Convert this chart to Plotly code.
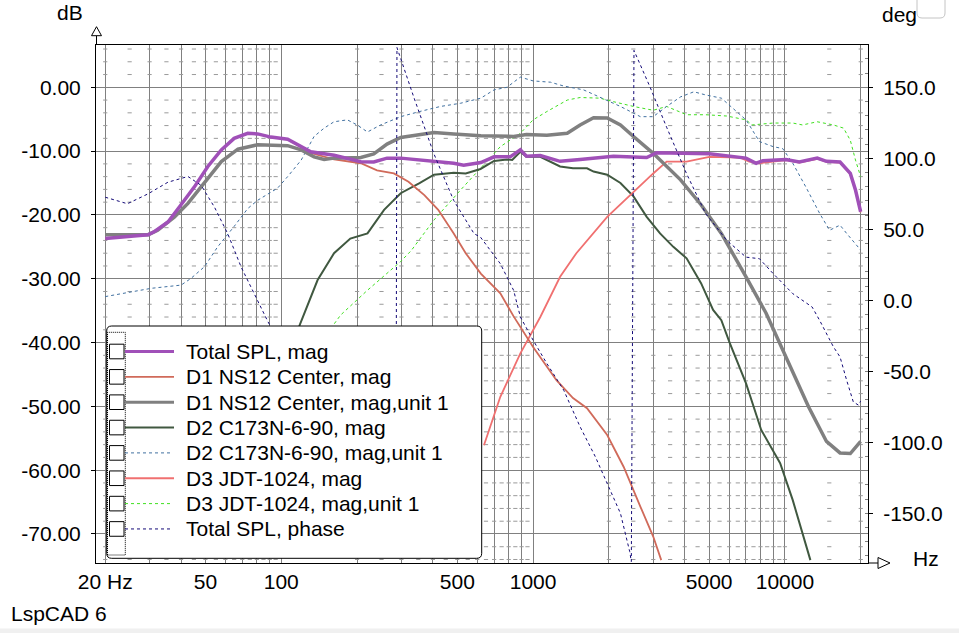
import numpy as np
import plotly.graph_objects as go

# ---- curves (Hz, dB / deg) ----
total_f = [20, 29.6, 31.4, 35.5, 40, 45.2, 51.1, 57.8, 65, 73.6, 80.6, 91, 106, 131, 162, 207, 233,
           263, 298, 404, 484, 530, 620, 700, 811, 890, 941, 1068, 1280, 1537, 2084, 2825, 3097,
           5009, 7006, 7686, 8170, 10090, 11400, 13430, 14620, 16550, 18180, 19060, 19980]
total_db = [-23.7, -23.1, -22.6, -21.1, -18.4, -15.6, -12.4, -9.8, -8.0, -7.2, -7.3, -7.8, -8.15, -10.1,
            -10.66, -11.65, -11.7, -11.1, -11.1, -11.55, -11.9, -12.2, -11.8, -10.9, -10.9, -9.8, -10.8,
            -10.7, -11.6, -11.3, -10.8, -11.0, -10.25, -10.4, -11.1, -11.9, -11.5, -11.3, -11.7, -11.1,
            -11.6, -11.7, -13.5, -16.1, -19.5]

d1_f = [20, 29.6, 31.4, 35.5, 40, 45.2, 51.1, 57.8, 65, 73.6, 80.6, 91, 106, 131, 162, 207, 240, 280,
        320, 370, 420, 484, 540, 620, 741, 837, 1000, 1238, 1440, 1637, 1969, 2290, 2666, 2999, 3227]
d1_db = [-23.7, -23.1, -22.6, -21.1, -18.4, -15.6, -12.4, -9.8, -8.0, -7.2, -7.3, -7.8, -8.15, -10.3,
         -11.3, -11.9, -13.0, -13.5, -14.8, -16.9, -19.2, -22.9, -26.0, -29.2, -32.3, -35.9, -40.7,
         -45.9, -48.7, -50.3, -54.5, -59.5, -65.7, -70.4, -74.1]

d1u_f = [20, 29.6, 32.3, 37.7, 42.6, 48.1, 57.8, 67.3, 80.6, 106, 120, 135, 148, 162, 207, 233, 263,
         298, 404, 484, 620, 837, 941, 1134, 1366, 1537, 1738, 1969, 2222, 2504, 2999, 3851, 4644,
         5590, 6316, 7006, 8418, 10090, 12420, 14620, 16550, 18180, 19980]
d1u_db = [-23.1, -23.1, -22.4, -20.3, -18.2, -15.6, -11.65, -9.7, -9.0, -9.15, -9.8, -10.9, -11.3,
          -11.1, -11.0, -10.45, -8.9, -7.85, -7.1, -7.3, -7.6, -7.7, -7.4, -7.5, -7.2, -5.9, -4.76,
          -4.8, -5.9, -7.7, -10.35, -14.5, -18.4, -22.9, -26.5, -29.7, -35.4, -42.2, -50.1, -55.5,
          -57.3, -57.4, -55.5]

d2_f = [60, 80, 100, 118, 139.4, 162, 188, 220, 256, 298, 354, 404, 484, 540, 618, 700, 787, 826,
        890, 941, 1068, 1172, 1280, 1440, 1637, 1738, 1969, 2222, 2504, 2825, 3192, 3604, 4069,
        4644, 5185, 5590, 6040, 7006, 8050, 9571, 10740, 12620]
d2_db = [-62, -51, -43.5, -37.4, -30.2, -26.0, -23.7, -22.9, -19.2, -16.6, -15.0, -13.7, -13.4,
         -13.5, -12.8, -11.55, -11.3, -11.4, -10.1, -10.9, -10.9, -11.7, -12.4, -12.7, -12.7, -13.2,
         -13.7, -15.0, -17.1, -20.3, -22.9, -25.0, -26.8, -30.7, -34.9, -36.5, -40.1, -46.4, -53.7,
         -58.9, -64.7, -74.1]

d2u_f = [20, 26.1, 30.5, 40, 43.8, 49.6, 55.9, 65, 73.6, 80.6, 96.7, 106, 120, 135, 148, 162, 183,
         200, 220, 248, 298, 354, 429, 515, 620, 700, 787, 890, 1000, 1172, 1323, 1586, 1839, 2222,
         2666, 2999, 3390, 3851, 4351, 4845, 5590, 6316, 7006, 7920, 8980, 9794, 10740, 12100,
         13730, 15040, 16550, 17580, 19980]
d2u_db = [-32.8, -32.0, -31.5, -31.0, -29.95, -28.1, -25.0, -21.8, -19.0, -17.7, -15.8, -14.0, -11.4,
          -7.7, -6.4, -5.4, -5.1, -5.9, -7.0, -5.9, -4.6, -3.8, -3.0, -2.5, -1.7, -0.4, 0.0, 1.6, 1.0,
          0.8, 0.2, -0.4, -1.5, -3.0, -4.6, -4.6, -3.0, -1.5, -0.7, -1.2, -1.7, -3.6, -5.1, -8.5,
          -9.3, -9.6, -11.9, -15.6, -19.75, -22.4, -21.6, -22.9, -25.5]

d3_f = [638, 741, 890, 1068, 1280, 1485, 1969, 2504, 2999, 3390, 4069, 5009, 6610, 7215, 7920,
        10090, 11400, 13430, 14620, 16550, 18180, 19060, 19980]
d3_db = [-56.1, -48.5, -41.7, -36.0, -29.7, -26.0, -20.3, -16.4, -13.5, -11.65, -11.65, -10.9,
         -11.0, -11.65, -11.9, -11.4, -11.8, -11.2, -11.7, -11.8, -13.6, -16.2, -19.6]

d3u_f = [100, 130, 160, 172, 220, 298, 328, 404, 515, 620, 741, 890, 1000, 1134, 1366, 1537, 1839,
         2084, 2504, 2999, 3390, 4069, 4845, 5876, 7006, 7400, 8980, 10740, 11740, 13430, 15580,
         17090, 18180, 19060, 19980]
d3u_db = [-46, -41.5, -37.4, -35.7, -31.8, -27.3, -25.6, -20.8, -16.1, -12.7, -9.3, -7.2, -5.1,
          -3.8, -2.0, -1.6, -1.7, -2.25, -3.0, -3.6, -3.0, -4.3, -4.3, -4.5, -5.1, -5.9, -5.6, -5.6,
          -5.9, -5.4, -5.9, -6.4, -8.3, -11.4, -14.0]

phase_f = [20, 24.5, 29.6, 35.5, 42.6, 48.1, 54.3, 61.3, 69.3, 78.3, 88.5, 100, 120, 150, 200, 250,
           285, 288, 336, 404, 484, 583, 618, 741, 837, 890, 1000, 1134, 1323, 1537, 1767, 1969,
           2222, 2419, 2455, 2515, 2916, 3390, 4069, 4845, 5876, 7006, 7920, 8980, 10740, 12820,
           13730, 15580, 16550, 17580, 18680, 19570, 19980]
phase_deg = [72.6, 68, 75, 83.2, 87.2, 80.9, 65.6, 46.9, 23.4, 4.7, -15, -32, -60, -95, -135, -163,
             -182, 178, 143, 103, 70.3, 46.9, 44.5, 25.8, 7.0, -11.7, -28.1, -44.5, -63.3, -89.1,
             -110.2, -128.9, -150, -177, -184, 176, 150, 121.9, 89.1, 61, 42.2, 30.4, 29.3, 18.8,
             4.7, -4.7, -14.1, -32.8, -39.9, -56.3, -71.5, -73.8, -71]

x_grid = [20, 30, 40, 50, 60, 70, 80, 90, 100, 200, 300, 400, 500, 600, 700, 800, 900,
          1000, 2000, 3000, 4000, 5000, 6000, 7000, 8000, 9000, 10000, 20000]
x_labels = {20: "20 Hz", 50: "50", 100: "100", 500: "500", 1000: "1000", 5000: "5000", 10000: "10000"}
db_ticks = [0, -10, -20, -30, -40, -50, -60, -70]
deg_ticks = [150, 100, 50, 0, -50, -100, -150]

FONT = "Arial, Liberation Sans, sans-serif"

# name, x, y, axis, colour, width, dash
series = [
    ("Total SPL, mag", total_f, total_db, "y", "#a050b8", 3.5, "solid"),
    ("D1 NS12 Center, mag", d1_f, d1_db, "y", "#d06a5a", 1.8, "solid"),
    ("D1 NS12 Center, mag,unit 1", d1u_f, d1u_db, "y", "#808080", 3.5, "solid"),
    ("D2 C173N-6-90, mag", d2_f, d2_db, "y", "#405840", 2, "solid"),
    ("D2 C173N-6-90, mag,unit 1", d2u_f, d2u_db, "y", "#4070a0", 1, "3px,3px"),
    ("D3 JDT-1024, mag", d3_f, d3_db, "y", "#f07070", 1.8, "solid"),
    ("D3 JDT-1024, mag,unit 1", d3u_f, d3u_db, "y", "#40e020", 1, "3px,3px"),
    ("Total SPL, phase", phase_f, phase_deg, "y2", "#140a78", 1, "3px,3px"),
]
draw_order = [6, 4, 3, 5, 1, 2, 0, 7]

fig = go.Figure()

# dashed minor grid (every 2 dB, at the 5-step frequencies)
minor_f = [m * d for d in (10, 100, 1000) for m in np.arange(2, 10, 0.5)] + [10000, 15000, 20000]
minor_db = [v for v in range(-74, 7, 2) if v % 10 != 0]
gx, gy = np.meshgrid(minor_f, minor_db)
fig.add_trace(go.Scatter(x=gx.ravel(), y=gy.ravel(), mode="markers", hoverinfo="skip",
                         marker=dict(symbol="line-ew", size=3, line=dict(color="#9a9a9a", width=1)),
                         showlegend=False))

for i in draw_order:
    name, xs, ys, ax, col, w, dash = series[i]
    fig.add_trace(go.Scatter(x=xs, y=ys, yaxis=ax, mode="lines", name=name, showlegend=False,
                             line=dict(color=col, width=w, dash=dash)))

# plot box in pixels
L, R, T, B = 96, 868, 45, 563
W, H = R - L, B - T


def px(x):
    return (x - L) / W


def py(y):
    return (B - y) / H


shapes = []
annots = []


def line(x0, y0, x1, y1, color="black", width=1, dash="solid"):
    shapes.append(dict(type="line", xref="paper", yref="paper", x0=px(x0), y0=py(y0),
                       x1=px(x1), y1=py(y1), line=dict(color=color, width=width, dash=dash),
                       layer="above"))


def rrect(x0, y0, x1, y1, r, color="black", fill="white", width=1):
    rx, ry = r / W, r / H
    a, b, c, d = px(x0), py(y1), px(x1), py(y0)
    path = (f"M{a + rx},{b} L{c - rx},{b} Q{c},{b} {c},{b + ry} L{c},{d - ry} Q{c},{d} {c - rx},{d} "
            f"L{a + rx},{d} Q{a},{d} {a},{d - ry} L{a},{b + ry} Q{a},{b} {a + rx},{b} Z")
    shapes.append(dict(type="path", xref="paper", yref="paper", path=path, fillcolor=fill,
                       line=dict(color=color, width=width), layer="above"))


def text(x, y, s, anchor="left", size=21):
    annots.append(dict(x=px(x), y=py(y), xref="paper", yref="paper", text=s, showarrow=False,
                       xanchor=anchor, yanchor="middle", font=dict(family=FONT, size=size, color="black")))


# axis arrows
line(96.5, 35.7, 96.5, 45)
shapes.append(dict(type="path", xref="paper", yref="paper", layer="above",
                   path=f"M{px(96.5)},{py(26.7)} L{px(101.5)},{py(35.7)} L{px(91.5)},{py(35.7)} Z",
                   line=dict(color="black", width=1), fillcolor="white"))
line(868, 563, 878, 563)
shapes.append(dict(type="path", xref="paper", yref="paper", layer="above",
                   path=f"M{px(890)},{py(563)} L{px(878)},{py(557.5)} L{px(878)},{py(568.5)} Z",
                   line=dict(color="black", width=1), fillcolor="white"))

# legend box
rrect(106.7, 326, 481.7, 558.3, 5)
shapes.append(dict(type="rect", xref="paper", yref="paper", layer="above",
                   x0=px(107.5), x1=px(125.3), y0=py(555), y1=py(332.3),
                   line=dict(color="black", width=1, dash="1px,1px")))
row0, step = 351.5, 25.35
for k, (name, xs, ys, ax, col, w, dash) in enumerate(series):
    yc = row0 + k * step
    shapes.append(dict(type="rect", xref="paper", yref="paper", layer="above",
                       x0=px(109.5), x1=px(124), y0=py(yc + 7.3), y1=py(yc - 7.3),
                       line=dict(color="black", width=1), fillcolor="white"))
    sample_end = 174 if dash == "solid" else 170
    line(125, yc, sample_end, yc, color=col, width=min(w, 3), dash=dash)
    text(183.5, yc, name)

# header / footer texts
text(70, 13, "dB", anchor="center")
text(880, 14, "deg")
text(911, 558, "Hz")
text(9, 613, "LspCAD 6")
rrect(917, -6, 945, 18, 5, color="#c4c4c4")
shapes.append(dict(type="rect", xref="paper", yref="paper", x0=-0.2, x1=1.2,
                   y0=py(633), y1=py(628.5), fillcolor="#f0f0f0", line=dict(width=0), layer="below"))

axis_font = dict(family=FONT, size=21, color="black")
fig.update_layout(
    width=959, height=633,
    margin=dict(l=L, r=959 - R, t=T, b=633 - B, pad=0),
    paper_bgcolor="white", plot_bgcolor="white",
    showlegend=False,
    shapes=shapes, annotations=annots,
    xaxis=dict(type="log", range=[np.log10(18.38), np.log10(21370)],
               tickvals=x_grid, ticktext=[x_labels.get(v, "") for v in x_grid],
               showgrid=True, gridcolor="#808080", gridwidth=1, zeroline=False,
               showline=True, linecolor="black", linewidth=1, mirror=True,
               ticks="", tickfont=axis_font, automargin=False),
    yaxis=dict(range=[-74.55, 6.63], tickvals=db_ticks, ticktext=[f"{v:.2f}" for v in db_ticks],
               showgrid=True, gridcolor="#808080", gridwidth=1, zeroline=False,
               showline=True, linecolor="black", linewidth=1, mirror=True,
               ticks="outside", ticklen=4, tickcolor="black", tickfont=axis_font,
               ticklabelstandoff=6, automargin=False),
    yaxis2=dict(overlaying="y", side="right", range=[-185, 179.8],
                tickvals=deg_ticks, ticktext=[f"{v:.1f}" for v in deg_ticks],
                showgrid=False, zeroline=False, showline=False,
                ticks="outside", ticklen=4, tickcolor="black", tickfont=axis_font,
                minor=dict(ticks="inside", ticklen=3, dtick=10, tickcolor="#808080"),
                ticklabelstandoff=6, automargin=False),
)

# the page body has an 8px default margin; drop it so the figure sits at the window corner
fig.write_html("out.html", config={"displayModeBar": False},
               post_script="document.body.style.margin='0';")
